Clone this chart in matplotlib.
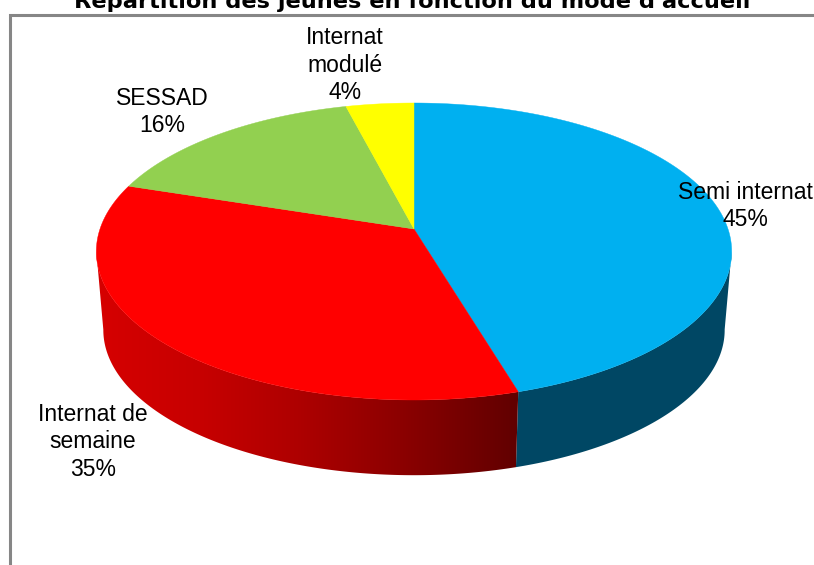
"""Pie chart of placement modes, drawn as a tilted 3D disc on a pixel-sized axes."""

import numpy as np
import matplotlib

matplotlib.use("Agg")
import matplotlib.pyplot as plt
from matplotlib.patches import Polygon

TITLE = "Répartition des jeunes en fonction du mode d'accueil"
CATEGORIES = ["Semi internat", "Internat de\nsemaine", "SESSAD", "Internat\nmodulé"]
SHARES = [45, 35, 16, 4]
TOP_COLORS = ["#00b0f0", "#ff0000", "#92d050", "#ffff00"]

WIDTH, HEIGHT = 814, 565
CX, APEX_Y, RADIUS = 414, 229, 314
TILT_A, TILT_C = -110.4, 0.1515
SIDE_SCALE, SIDE_OFFSET = 0.978, 84
# the right half of the rim runs a little ahead of the left in screen space
RIM_WARP = np.deg2rad(4.9)


def project(theta):
    """Map clockwise-from-north angles on the unit circle to the tilted top face."""
    theta = theta + RIM_WARP * np.clip(np.sin(theta), 0, None)
    u, v = np.sin(theta), np.cos(theta)
    w = 1 + TILT_C * v
    return CX + RADIUS * u / w, (TILT_A * v + APEX_Y) / w


def drop(x, y):
    """Same points on the lower rim of the disc."""
    return CX + (x - CX) * SIDE_SCALE, y * SIDE_SCALE + SIDE_OFFSET


fig = plt.figure(figsize=(WIDTH / 100, HEIGHT / 100), dpi=100)
ax = fig.add_axes([0, 0, 1, 1])
ax.axis("off")

# chart frame, cut off by the right and bottom edges
ax.plot([9.5, 9.5, WIDTH], [HEIGHT, 15, 15], color="#868686", lw=2.2, solid_joinstyle="miter")

edges = np.deg2rad(np.cumsum([0] + SHARES) * 3.6)
slices = [np.linspace(a, b, 200) for a, b in zip(edges[:-1], edges[1:])]

# side wall only exists between the widest rim points and the front
blue_theta = slices[0][np.argmax(project(slices[0])[0]):]
red_theta = slices[1][:np.argmin(project(slices[1])[0]) + 1]

for theta, name in ((blue_theta, "blue"), (red_theta, "red")):
    x, y = project(theta)
    xb, yb = drop(x, y)
    poly = Polygon(np.r_[np.c_[x, y], np.c_[xb, yb][::-1]], closed=True, lw=0,
                   fc="#004764" if name == "blue" else "none")
    ax.add_patch(poly)
    if name == "red":
        # red fades from left to right
        columns = np.linspace(90, 530, 256)
        red = np.interp(columns, [96, 200, 300, 400, 518], [0.84, 0.78, 0.68, 0.55, 0.38])
        rgb = np.zeros((1, columns.size, 3))
        rgb[..., 0] = red
        img = ax.imshow(rgb, extent=(90, 530, 480, 180), aspect="auto",
                        interpolation="bilinear", zorder=1)
        img.set_clip_path(poly)
ax.set_xlim(0, WIDTH)
ax.set_ylim(HEIGHT, 0)

# top face
for theta, color in zip(slices, TOP_COLORS):
    x, y = project(theta)
    pts = np.r_[[[CX, APEX_Y]], np.c_[x, y]]
    ax.add_patch(Polygon(pts, closed=True, fc=color, ec=color, lw=0.3, zorder=2))

LABEL_FONT = ["Liberation Sans Narrow", "Liberation Sans"]
label_xy = [(745, 206), (93, 442), (162, 112), (345, 65)]
for name, share, (lx, ly) in zip(CATEGORIES, SHARES, label_xy):
    ax.text(lx, ly, f"{name}\n{share}%", ha="center", va="center", fontsize=16.5,
            family=LABEL_FONT, linespacing=1.23, color="black", zorder=3)

ax.text(412, 1.5, TITLE, ha="center", va="center", fontsize=16.2, fontweight="bold",
        family="DejaVu Sans", color="black", zorder=3)

fig.savefig("out.png", dpi=100)
